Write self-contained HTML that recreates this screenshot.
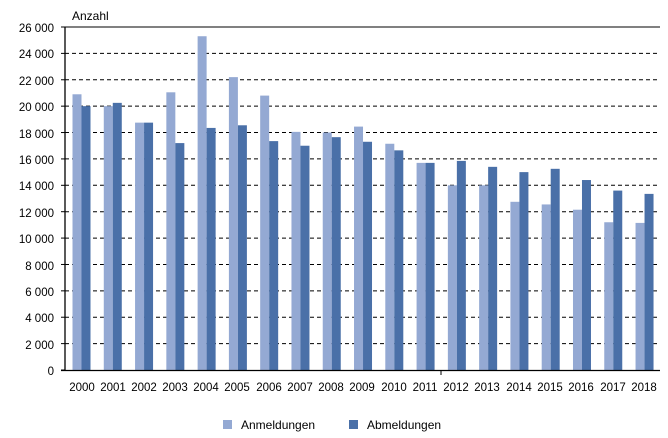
<!DOCTYPE html>
<html><head><meta charset="utf-8"><style>
body{margin:0;background:#fff}
svg{display:block;font-family:"Liberation Sans",sans-serif}
</style></head><body>
<svg id="c" width="668" height="438" xmlns="http://www.w3.org/2000/svg">
<text x="72" y="20" font-size="12" fill="#000">Anzahl</text>
<g id="grid"></g>
<g id="bars"></g>
<g font-size="11.5" fill="#000" text-anchor="end">
<text x="54" y="32">26 000</text><text x="54" y="58">24 000</text><text x="54" y="85">22 000</text>
<text x="54" y="111">20 000</text><text x="54" y="138">18 000</text><text x="54" y="164">16 000</text>
<text x="54" y="190">14 000</text><text x="54" y="217">12 000</text><text x="54" y="243">10 000</text>
<text x="54" y="270">8 000</text><text x="54" y="296">6 000</text><text x="54" y="322">4 000</text>
<text x="54" y="349">2 000</text><text x="54" y="375">0</text>
</g>
<g font-size="11.5" fill="#000" text-anchor="middle">
<text x="82" y="391">2000</text><text x="113" y="391">2001</text><text x="144" y="391">2002</text>
<text x="175" y="391">2003</text><text x="206" y="391">2004</text><text x="237" y="391">2005</text>
<text x="269" y="391">2006</text><text x="300" y="391">2007</text><text x="331" y="391">2008</text>
<text x="362" y="391">2009</text><text x="394" y="391">2010</text><text x="425" y="391">2011</text>
<text x="456" y="391">2012</text><text x="487" y="391">2013</text><text x="519" y="391">2014</text>
<text x="550" y="391">2015</text><text x="581" y="391">2016</text><text x="613" y="391">2017</text>
<text x="644" y="391">2018</text>
</g>
<rect x="223" y="420" width="9" height="9" fill="#94a9d3"/>
<text x="241" y="429" font-size="12">Anmeldungen</text>
<rect x="349" y="420" width="9" height="9" fill="#4a70a8"/>
<text x="367" y="429" font-size="12">Abmeldungen</text>
</svg>
<script>
var ns="http://www.w3.org/2000/svg";
function el(p,t,a){var e=document.createElementNS(ns,t);for(var k in a)e.setAttribute(k,a[k]);document.getElementById(p).appendChild(e);}
var y0=370,s=343/26000;
for(var i=1;i<=13;i++){var y=y0-i*2000*s;
 el("grid","line",{x1:65,x2:660,y1:y,y2:y,stroke:"#000","stroke-width":1,"stroke-dasharray":i==13?"":"4,3"});}
for(var i=0;i<=13;i++){var y=y0-i*2000*s;el("grid","line",{x1:61,x2:65,y1:y,y2:y,stroke:"#000"});}
var A=[20900,20000,18750,21050,25300,22200,20800,18050,18000,18450,17150,15700,14000,14000,12750,12550,12150,11200,11150];
var B=[20000,20250,18750,17200,18350,18550,17350,17000,17650,17300,16650,15700,15850,15400,15000,15250,14400,13600,13350];
for(var i=0;i<19;i++){var c=81.5+i*31.28;
 el("bars","rect",{x:c-9,y:y0-A[i]*s,width:9,height:A[i]*s,fill:"#94a9d3"});
 el("bars","rect",{x:c,y:y0-B[i]*s,width:9,height:B[i]*s,fill:"#4a70a8"});}
el("bars","line",{x1:65,x2:65,y1:27.5,y2:371,stroke:"#000","stroke-width":1.3});
el("bars","line",{x1:61,x2:660,y1:370.5,y2:370.5,stroke:"#000","stroke-width":1.3});
el("bars","line",{x1:441,x2:441,y1:370,y2:375,stroke:"#000"});
</script>
</body></html>
